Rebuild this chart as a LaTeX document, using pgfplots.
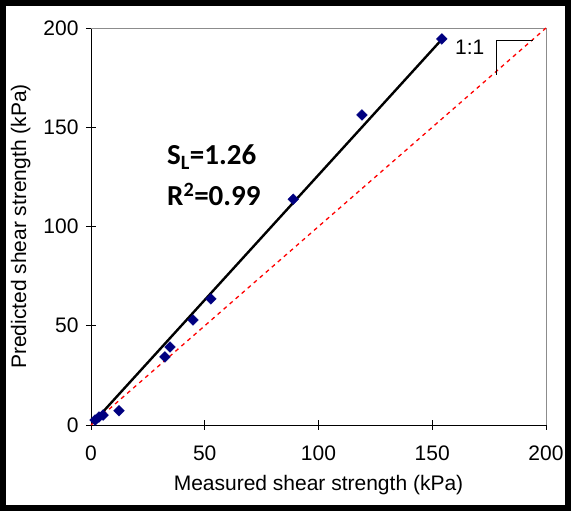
\documentclass[border=0pt]{standalone}
\usepackage{fontspec}
\setmainfont{Liberation Sans}
\newfontfamily\calibri{Carlito}
\usepackage{pgfplots}
\pgfplotsset{compat=1.18}
\definecolor{navy}{RGB}{0,0,128}
\begin{document}
\begin{tikzpicture}[x=1pt,y=1pt]
\path[use as bounding box] (-91,-86) rectangle (480,425);
\draw[line width=6pt] (-88,-83) rectangle (477,422);
\begin{axis}[at={(0,0)},anchor=south west,scale only axis,width=455pt,height=397pt,
  xmin=0,xmax=200,ymin=0,ymax=200,
  xtick={0,50,...,200},ytick={0,50,...,200},
  axis x line*=bottom,axis y line*=left,
  tick align=center,major tick length=10pt,
  tick style={black,line width=0.8pt},
  axis line style={black,line width=0.9pt},
  /pgf/number format/assume math mode=true,
  tick label style={font=\fontsize{21}{24}\selectfont},
  label style={font=\fontsize{21}{24}\selectfont},
  xticklabel style={yshift=-12pt},yticklabel style={xshift=-4pt},
  xlabel={Measured shear strength (kPa)},
  ylabel={Predicted shear strength (kPa)},
  xlabel style={yshift=-8pt},ylabel style={yshift=6pt},
  clip=false]
\draw[black!45,line width=0.8pt] (axis cs:0,200) -- (axis cs:200,200) -- (axis cs:200,0);
\addplot[red,line width=1.3pt,dash pattern=on 4pt off 4pt] coordinates {(0,0) (200,200)};
\addplot[black,line width=2.4pt] coordinates {(3,3.8) (154,194)};
\addplot[only marks,mark=square*,mark size=3.8pt,mark options={rotate=45,fill=navy,draw=navy},color=navy] coordinates {
(1.8,2.5) (3.5,4) (5.3,5) (12.3,7.2) (32.5,34.3) (34.7,39.3) (44.8,52.9) (52.7,63.5) (88.9,113.7) (119.1,156.2) (154.2,194.5)};
\draw[black,line width=0.8pt] (axis cs:194.3,193.5) -- (axis cs:178,193.5) -- (axis cs:178,176.3);
\node[font=\fontsize{21}{24}\selectfont] at (axis cs:166.5,190.5) {1:1};
\node[anchor=base west,font=\calibri\bfseries\fontsize{29}{32}\selectfont,inner sep=0pt] at (axis cs:33.4,131) {S\textsubscript{L}=1.26};
\node[anchor=base west,font=\calibri\bfseries\fontsize{29}{32}\selectfont,inner sep=0pt] at (axis cs:33.4,110.5) {R\textsuperscript{2}=0.99};
\end{axis}
\end{tikzpicture}
\end{document}
